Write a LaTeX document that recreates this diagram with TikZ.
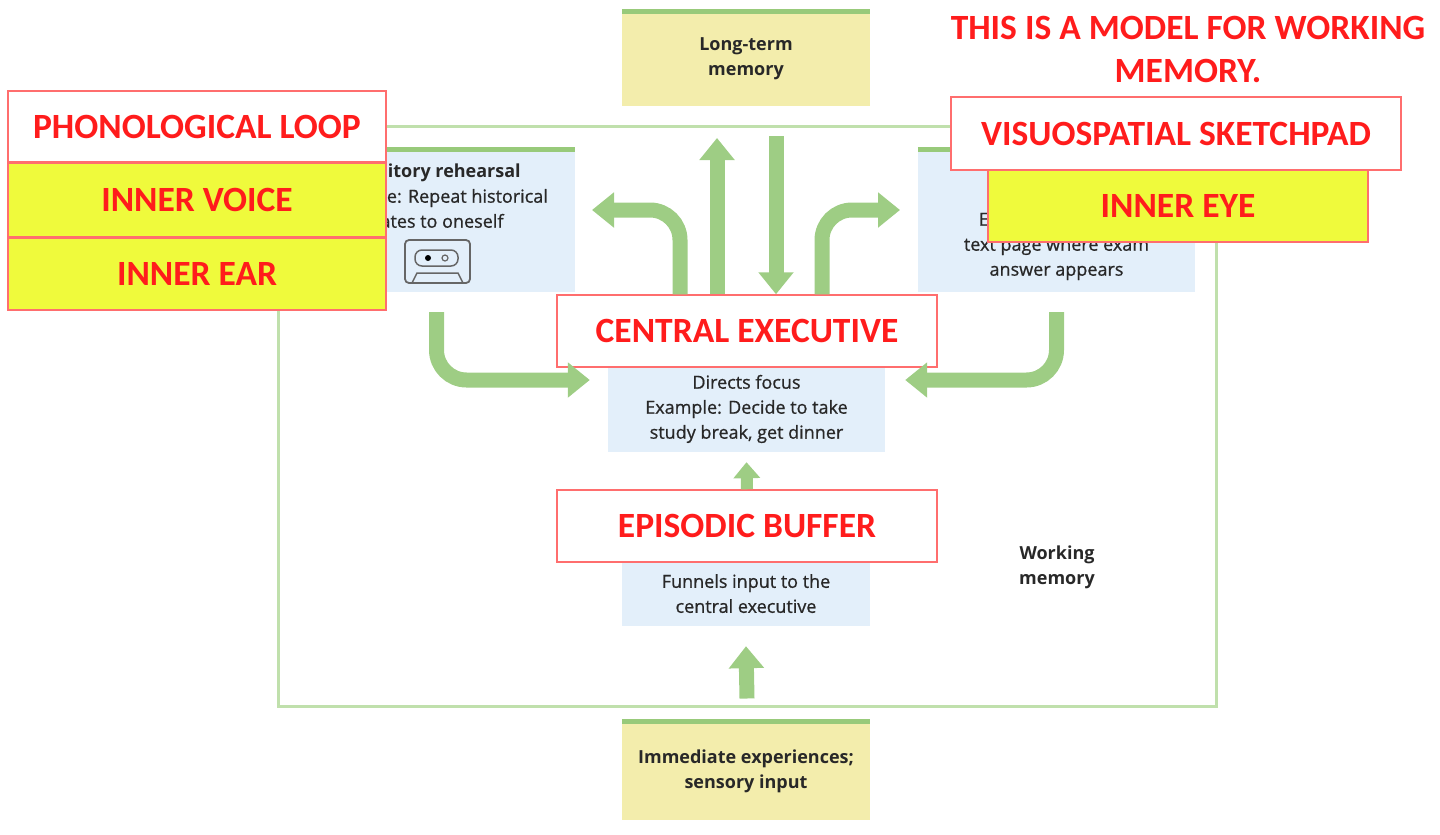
\documentclass[tikz,border=0pt]{standalone}
\usepackage{fontspec}
\setmainfont{Carlito}
\newfontfamily\bodyfont[UprightFeatures={FakeBold=0.8}]{Open Sans}
\usetikzlibrary{arrows.meta,positioning}
\definecolor{textred}{RGB}{255,28,28}
\definecolor{linered}{RGB}{255,110,110}
\definecolor{lblyellow}{RGB}{239,250,60}
\definecolor{arrowgreen}{RGB}{158,205,132}
\definecolor{framegreen}{RGB}{192,224,172}
\definecolor{bargreen}{RGB}{152,202,122}
\definecolor{memyellow}{RGB}{243,237,172}
\definecolor{boxblue}{RGB}{227,239,250}
\definecolor{graytext}{RGB}{40,40,40}
\newcommand{\redfont}{\fontsize{35.5}{43}\selectfont\bfseries}
\newcommand{\grayfont}{\bodyfont\fontsize{18}{25}\selectfont}

\begin{document}
\begin{tikzpicture}[x=1pt,y=-1pt,>={Triangle[width=34pt,length=22pt]},
	bigarrow/.style={->,draw=arrowgreen,line width=15pt},
	smallarrow/.style={-{Triangle[width=26pt,length=16pt]},draw=arrowgreen,line width=12pt},
	wmframe/.style={draw=framegreen,line width=3pt,minimum width=938pt,minimum height=580pt},
	membox/.style={fill=memyellow,minimum width=248pt,align=center,inner sep=0pt,
		text=graytext,font=\grayfont\bfseries},
	bluebox/.style={fill=boxblue,inner sep=0pt},
	topbar/.style={draw=bargreen,line width=5pt},
	graytxt/.style={align=center,inner sep=0pt,text=graytext,font=\grayfont},
	redlabel/.style={draw=linered,line width=1.5pt,fill=white,text=textred,font=\redfont,
		minimum width=380pt,minimum height=72pt,inner sep=0pt},
	yellowlabel/.style={redlabel,fill=lblyellow}]

	\useasboundingbox (0,0) rectangle (1440,835);

	% working memory frame and the two memory boxes
	\node[wmframe] (wm) at (747,416) {};
	\node[membox,minimum height=94pt] (ltm) at (746,59) {Long-term\\memory};
	\draw[topbar] (ltm.north west) -- (ltm.north east);
	\node[membox,minimum height=98pt] (sense) at (746,771) {Immediate experiences;\\sensory input};
	\draw[topbar] (sense.north west) -- (sense.north east);
	\node[graytxt,font=\grayfont\bfseries] (wmlabel) at (1057,567) {Working\\memory};

	% blue boxes
	\node[bluebox,minimum width=277pt,minimum height=142pt] (plbox) at (436.5,221) {};
	\draw[topbar] (plbox.north west) -- (plbox.north east);
	\node[graytxt,below=14pt of plbox.north] (pltext) {\textbf{Auditory rehearsal}\\Example: Repeat historical\\dates to oneself};
	\node[bluebox,minimum width=277pt,minimum height=142pt] (vsbox) at (1056.5,221) {};
	\draw[topbar] (vsbox.north west) -- (vsbox.north east);
	\node[graytxt,above=12pt of vsbox.south] (vstext) {Example: Visualize\\text page where exam\\answer appears};
	\node[bluebox,minimum width=277pt,minimum height=152pt] (cebox) at (746.5,376) {};
	\node[graytxt,above=9pt of cebox.south] (cetext) {Directs focus\\Example: Decide to take\\study break, get dinner};
	\node[bluebox,minimum width=248pt,minimum height=126pt] (ebbox) at (746,563) {};
	\node[graytxt,above=13pt of ebbox.south] (ebtext) {Funnels input to the\\central executive};

	% cassette
	\draw[gray!80!black,line width=1.8pt,rounded corners=4pt] (405,240) rectangle (470,283);
	\draw[gray!80!black,line width=1.5pt,rounded corners=7pt] (415,250) rectangle (458,266);
	\fill[black] (428,258) circle (3pt);
	\draw[gray!80!black,line width=1.2pt] (445,258) circle (3pt);
	\draw[gray!80!black,line width=1.5pt] (412,283) -- (417,273) -- (458,273) -- (463,283);

	% red labels
	\node[redlabel] (ce) at (747,331) {CENTRAL EXECUTIVE};
	\node[redlabel] (eb) at (747,526) {EPISODIC BUFFER};

	% arrows
	\coordinate (ltmup) at (717,138);
	\coordinate (ltmdown) at (776,136);
	\coordinate (plin) at (592,210);
	\coordinate (vsin) at (900,210);
	\draw[bigarrow] (ce.north -| ltmup) -- (ltmup);
	\draw[bigarrow] (ltmdown) -- (ce.north -| ltmdown);
	\draw[bigarrow,rounded corners=30pt] ([xshift=-67pt]ce.north) |- (plin);
	\draw[bigarrow,rounded corners=30pt] ([xshift=75pt]ce.north) |- (vsin);
	\draw[bigarrow,rounded corners=30pt] ([yshift=-20pt]plbox.south) |- ([xshift=-18pt,yshift=-4pt]cebox.west);
	\draw[bigarrow,rounded corners=30pt] ([yshift=-20pt]vsbox.south) |- ([xshift=20pt,yshift=-4pt]cebox.east);
	\draw[smallarrow] (eb.north) -- ([yshift=-10pt]cebox.south);
	\draw[bigarrow] ([yshift=9pt]wm.south) -- ([yshift=-20pt]ebbox.south);

	% overlay labels
	\node[redlabel,minimum width=378pt,minimum height=71pt] (pl) at (197,126.5) {PHONOLOGICAL LOOP};
	\node[yellowlabel,minimum width=378pt,minimum height=73pt,below=0pt of pl] (voice) {INNER VOICE};
	\node[yellowlabel,minimum width=378pt,below=0pt of voice] (ear) {INNER EAR};
	\node[yellowlabel] (eye) at (1178,206) {INNER EYE};
	\node[redlabel,minimum width=450pt,minimum height=73pt] (vs) at (1176,133.5) {VISUOSPATIAL SKETCHPAD};
	\node[align=center,text=textred,font=\redfont,inner sep=0pt] (title) at (1188,49) {THIS IS A MODEL FOR WORKING\\MEMORY.};
\end{tikzpicture}
\end{document}
